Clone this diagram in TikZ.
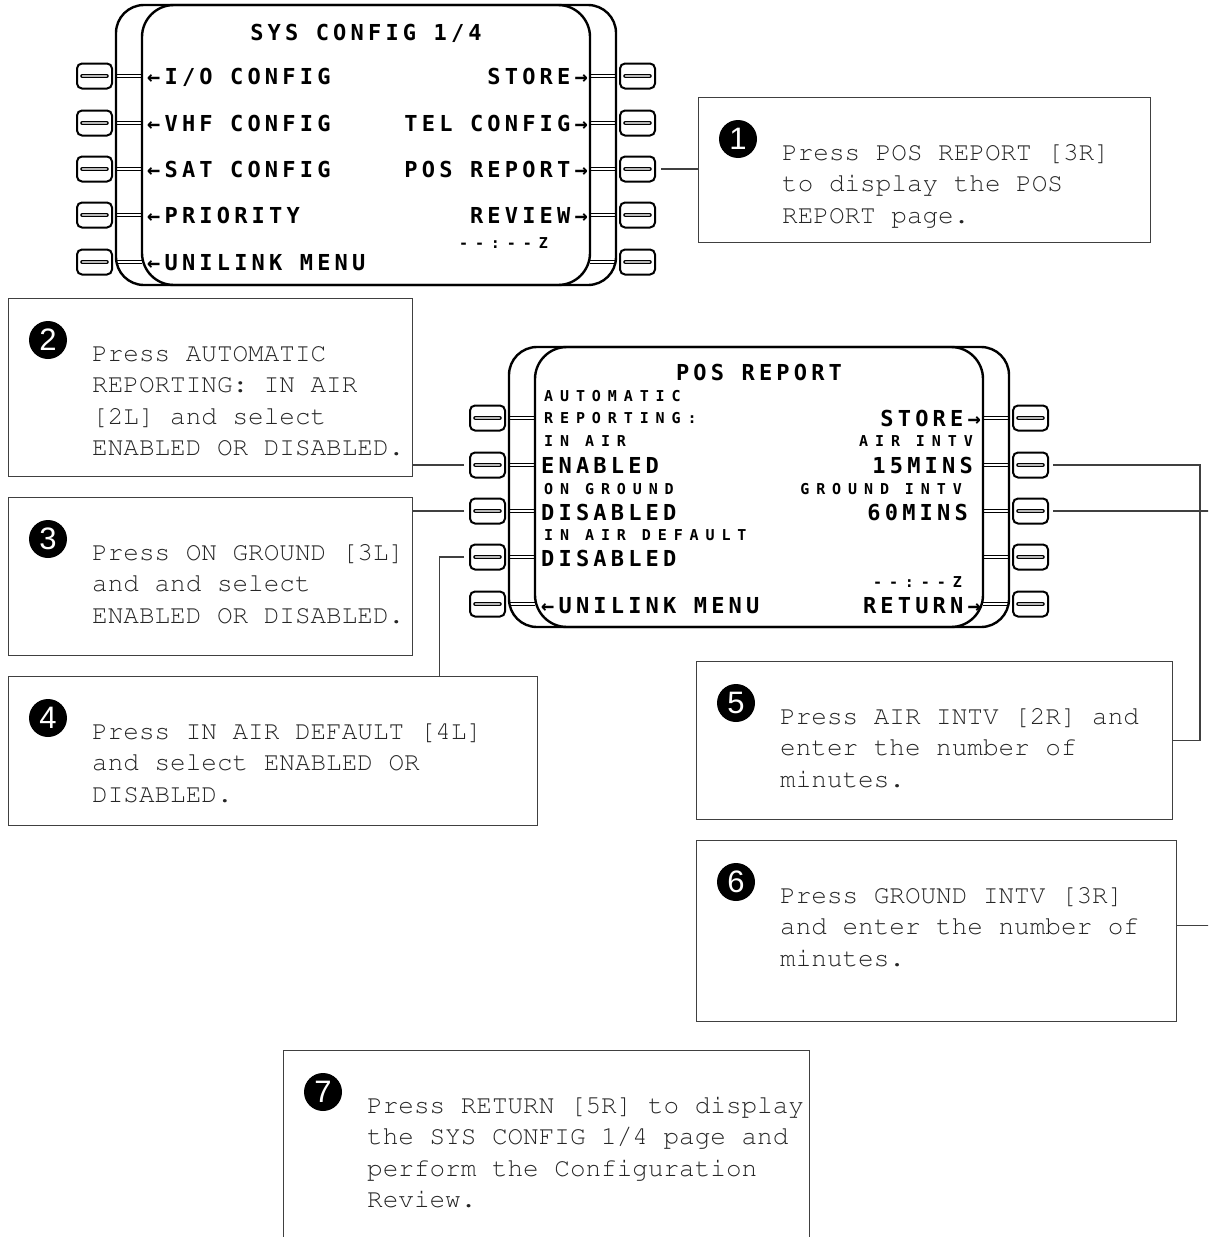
\documentclass[tikz,border=0pt]{standalone}
\usepackage[T1]{fontenc}
\usepackage{fontspec}
\newfontfamily\cdufont[LetterSpace=19]{DejaVu Sans Mono}
\newfontfamily\cdusmallfont[LetterSpace=46]{DejaVu Sans Mono}
\newfontfamily\badgefont{Liberation Sans}
\newcommand{\notefont}{\fontencoding{T1}\fontfamily{pcr}\fontsize{26}{31.5}\selectfont}

\tikzset{
  bezel/.style={line width=2.4pt, rounded corners=28pt},
  screen/.style={line width=2.4pt, rounded corners=32pt},
  lsk/.style={draw, line width=2pt, rounded corners=5pt, minimum width=35pt,
    minimum height=25pt, inner sep=0pt,
    path picture={
      \draw[line width=4.6pt, line cap=round]
        ([xshift=-12pt]path picture bounding box.center) -- ([xshift=12pt]path picture bounding box.center);
      \draw[line width=1.5pt, line cap=round, gray!55]
        ([xshift=-12pt]path picture bounding box.center) -- ([xshift=12pt]path picture bounding box.center);}},
  keylink/.style={line width=1pt, double distance=2.2pt},
  cdubig/.style={font=\cdufont\bfseries\fontsize{22}{22}\selectfont, inner sep=0pt},
  cdusmall/.style={font=\cdusmallfont\bfseries\fontsize{15}{15}\selectfont, inner sep=0pt},
  callout/.style={draw=black!75, line width=1.1pt, inner sep=0pt, anchor=north west},
  badge/.style={circle, fill=black, inner sep=0pt, minimum size=38pt, text=white,
    font=\badgefont\fontsize{31}{31}\selectfont},
  note/.style={anchor=base west, align=left, inner sep=0pt, font=\notefont, text=black!85},
  leader/.style={draw=black!75, line width=1.1pt}
}

\begin{document}
\begin{tikzpicture}[x=1pt, y=-1pt]
    \useasboundingbox (0,0) rectangle (1208,1237);
    \clip (0,0) rectangle (1208,1237);

    % --- SYS CONFIG 1/4 PAGE ---
    \begin{scope}[shift={(116,5)}]
        \foreach \r/\y in {1/71,2/118,3/164,4/210,5/257} {
            \draw[keylink] (0,\y) -- (26,\y);
            \draw[keylink] (474,\y) -- (500,\y);
            \node[lsk] (sysL\r) at (-21.5,\y) {};
            \node[lsk] (sysR\r) at (521.5,\y) {};
        }
        \draw[bezel] (0,0) rectangle (500,280);
        \draw[screen] (26,0) rectangle (474,280);

        \node[cdubig, anchor=base] (sysTitle) at (250,35) {SYS CONFIG 1/4};

        \node[cdubig, anchor=base west] (sysT1) at (31,79) {←I/O CONFIG};
        \node[cdubig, anchor=base west] (sysT2) at (31,126) {←VHF CONFIG};
        \node[cdubig, anchor=base west] (sysT3) at (31,172) {←SAT CONFIG};
        \node[cdubig, anchor=base west] (sysT4) at (31,218) {←PRIORITY};
        \node[cdubig, anchor=base west] (sysT5) at (31,265) {←UNILINK MENU};

        \node[cdubig, anchor=base east] (sysU1) at (472,79) {STORE→};
        \node[cdubig, anchor=base east] (sysU2) at (472,126) {TEL CONFIG→};
        \node[cdubig, anchor=base east] (sysU3) at (472,172) {POS REPORT→};
        \node[cdubig, anchor=base east] (sysU4) at (472,218) {REVIEW→};
        \node[cdusmall, anchor=base east] (sysTime) at (432,243.5) {--:--Z};
    \end{scope}

    % --- POS REPORT PAGE ---
    \begin{scope}[shift={(509,347)}]
        \foreach \r/\y in {1/71,2/118,3/164,4/210,5/257} {
            \draw[keylink] (0,\y) -- (26,\y);
            \draw[keylink] (474,\y) -- (500,\y);
            \node[lsk] (posL\r) at (-21.5,\y) {};
            \node[lsk] (posR\r) at (521.5,\y) {};
        }
        \draw[bezel] (0,0) rectangle (500,280);
        \draw[screen] (26,0) rectangle (474,280);

        \node[cdubig, anchor=base] (posTitle) at (250,33) {POS REPORT};

        \node[cdusmall, anchor=base west] (posS1) at (35,54.5) {AUTOMATIC};
        \node[cdusmall, anchor=base west] (posS2) at (35,76.5) {REPORTING:};
        \node[cdusmall, anchor=base west] (posS3) at (35,99.5) {IN AIR};
        \node[cdubig, anchor=base west] (posT2) at (32,126) {ENABLED};
        \node[cdusmall, anchor=base west] (posS4) at (35,147.5) {ON GROUND};
        \node[cdubig, anchor=base west] (posT3) at (32,173) {DISABLED};
        \node[cdusmall, anchor=base west] (posS5) at (35,193.5) {IN AIR DEFAULT};
        \node[cdubig, anchor=base west] (posT4) at (32,219) {DISABLED};
        \node[cdubig, anchor=base west] (posT5) at (32,266) {←UNILINK MENU};

        \node[cdubig, anchor=base east] (posU1) at (472,79) {STORE→};
        \node[cdusmall, anchor=base east] (posV2) at (464,99.5) {AIR INTV};
        \node[cdubig, anchor=base east] (posU2) at (464,126) {15MINS};
        \node[cdusmall, anchor=base east] (posV3) at (453,147.5) {GROUND INTV};
        \node[cdubig, anchor=base east] (posU3) at (459,173) {60MINS};
        \node[cdusmall, anchor=base east] (posTime) at (453,240.5) {--:--Z};
        \node[cdubig, anchor=base east] (posU5) at (472,266) {RETURN→};
    \end{scope}

    % --- CALLOUTS ---
    \node[callout, minimum width=452pt, minimum height=145pt] (step1) at (698,97) {};
    \node[callout, minimum width=404pt, minimum height=178pt] (step2) at (8,298) {};
    \node[callout, minimum width=404pt, minimum height=158pt] (step3) at (8,497) {};
    \node[callout, minimum width=529pt, minimum height=149pt] (step4) at (8,676) {};
    \node[callout, minimum width=476pt, minimum height=158pt] (step5) at (696,661) {};
    \node[callout, minimum width=480pt, minimum height=181pt] (step6) at (696,840) {};
    \node[callout, minimum width=526pt, minimum height=230pt] (step7) at (283,1050) {};

    \foreach \s in {1,...,7} {
        \node[badge] (badge\s) at ([shift={(40,42)}]step\s.north west) {\s};
    }

    % text nodes sit on the baseline of their last line
    \node[note] (text1) at ([shift={(84,126)}]step1.north west)
        {Press POS REPORT [3R]\\to display the POS\\REPORT page.};
    \node[note] (text2) at ([shift={(84,157.5)}]step2.north west)
        {Press AUTOMATIC\\REPORTING: IN AIR\\{}[2L] and select\\ENABLED OR DISABLED.};
    \node[note] (text3) at ([shift={(84,126)}]step3.north west)
        {Press ON GROUND [3L]\\and and select\\ENABLED OR DISABLED.};
    \node[note] (text4) at ([shift={(84,126)}]step4.north west)
        {Press IN AIR DEFAULT [4L]\\and select ENABLED OR\\DISABLED.};
    \node[note] (text5) at ([shift={(84,126)}]step5.north west)
        {Press AIR INTV [2R] and\\enter the number of\\minutes.};
    \node[note] (text6) at ([shift={(84,126)}]step6.north west)
        {Press GROUND INTV [3R]\\and enter the number of\\minutes.};
    \node[note] (text7) at ([shift={(84,157.5)}]step7.north west)
        {Press RETURN [5R] to display\\the SYS CONFIG 1/4 page and\\perform the Configuration\\Review.};

    % --- LEADERS ---
    \draw[leader] ([xshift=5pt]sysR3.east) -- (sysR3.east -| step1.west);
    \draw[leader] ([xshift=-5pt]posL2.west) -- (posL2.west -| step2.east);
    \draw[leader] ([xshift=-5pt]posL3.west) -- (posL3.west -| step3.east);
    \draw[leader] ([xshift=-5pt]posL4.west) -| ([xshift=-99pt]step4.north east);
    \draw[leader] ([xshift=4pt]posR2.east) -- ++(147,0) |- (step5.east);
    \draw[leader] ([xshift=4pt]posR3.east) -- ++(170,0) |- ([yshift=6pt]step6.east);
\end{tikzpicture}
\end{document}
